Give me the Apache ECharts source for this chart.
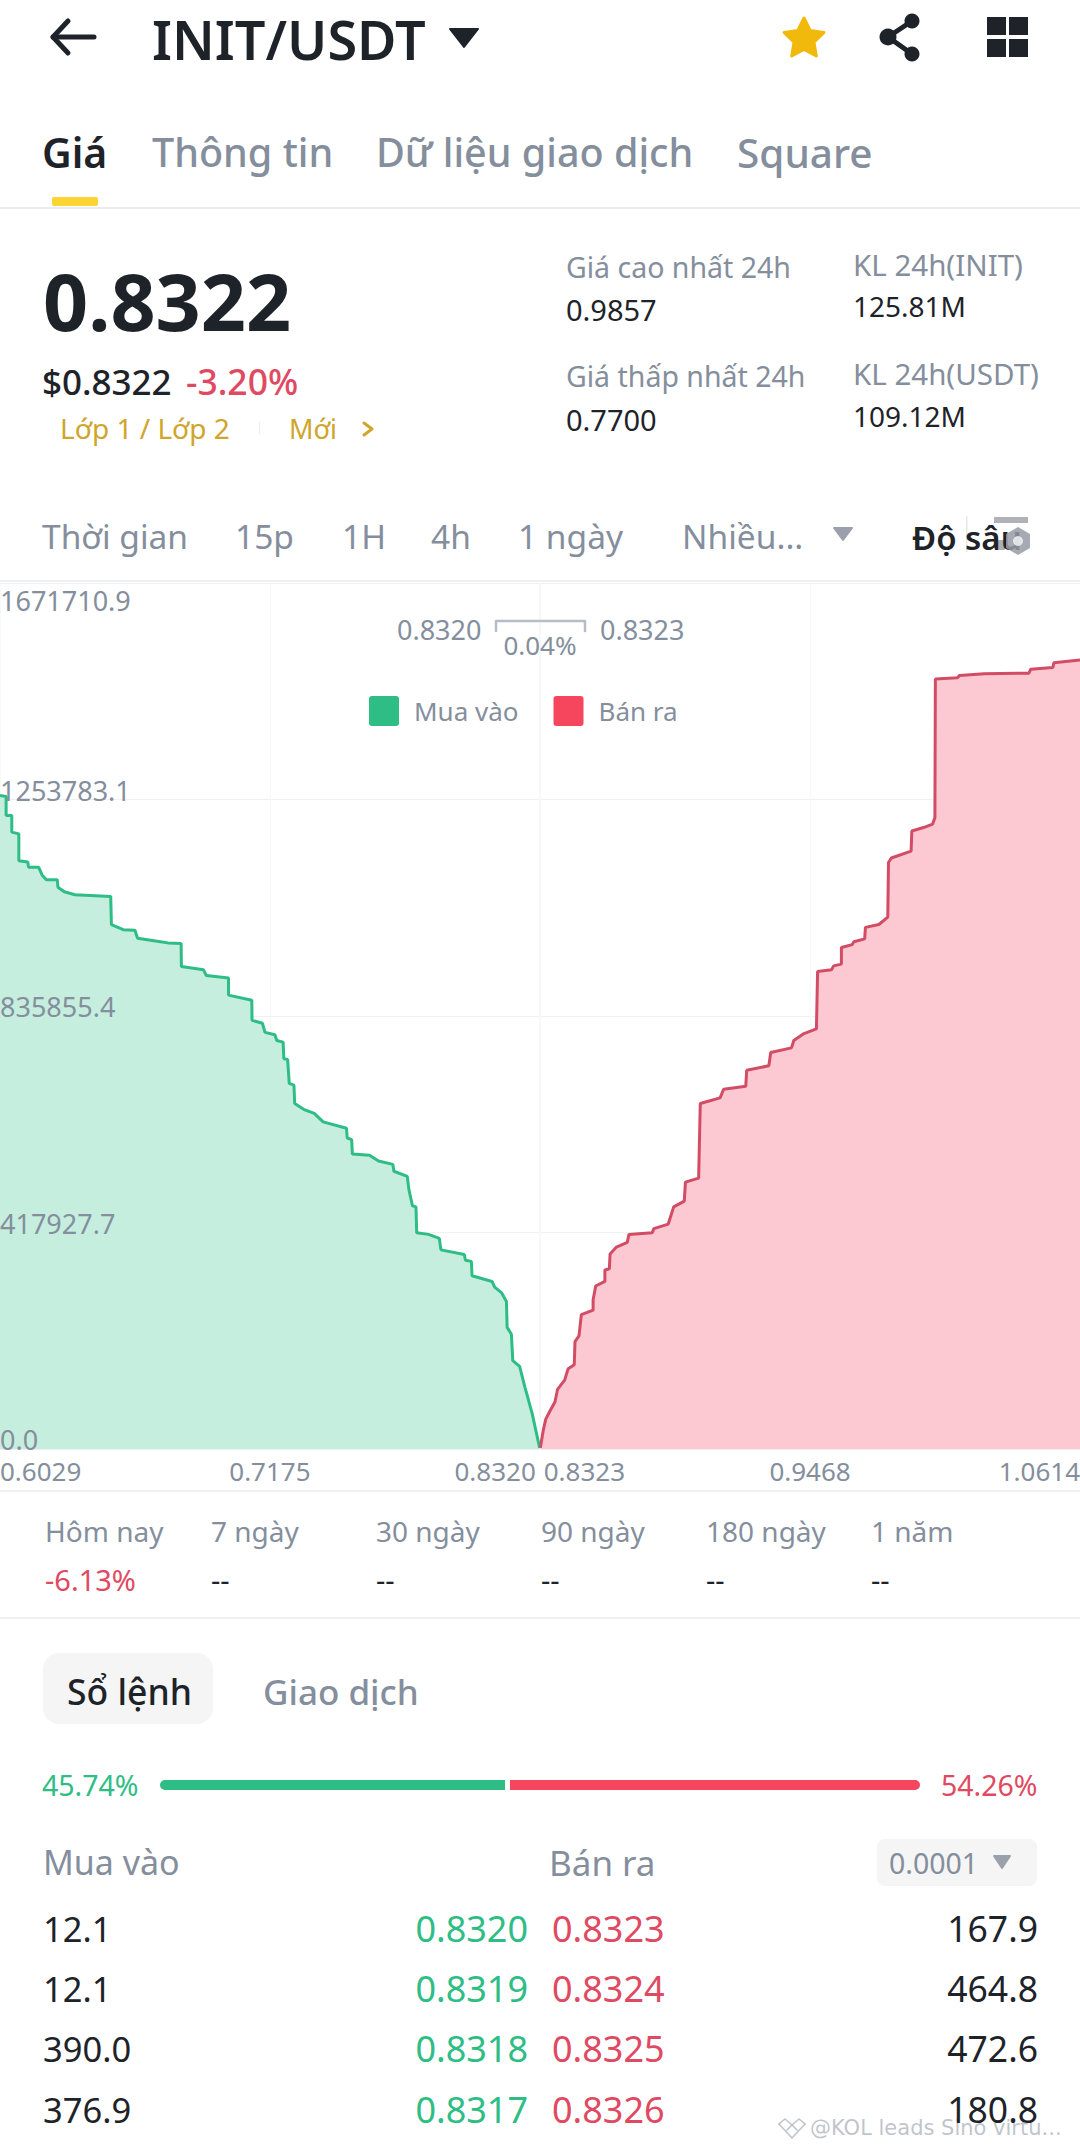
<!DOCTYPE html>
<html>
<head>
<meta charset="utf-8">
<title>INIT/USDT</title>
<style>html,body{margin:0;padding:0;background:#fff}#c{width:1080px;height:2149px}</style>
<script src="https://cdn.jsdelivr.net/npm/echarts@6/dist/echarts.min.js"></script>
</head>
<body>
<div id="c"></div>
<script>
// Depth data: [price, cumulative volume]
var bidDepth = [[0.6029,1261670],[0.6055,1259455],[0.6055,1222900],[0.6079,1222900],[0.6079,1190780],[0.6109,1187450],[0.6109,1135440],[0.6147,1133180],[0.6150,1123210],[0.6193,1123210],[0.6208,1107700],[0.6226,1098840],[0.6272,1098840],[0.6275,1084440],[0.6302,1075580],[0.6347,1070040],[0.6499,1066720],[0.6502,1012440],[0.6552,1002470],[0.6602,1001360],[0.6613,985850],[0.6696,980310],[0.6742,976990],[0.6798,975880],[0.6799,931580],[0.6893,924930],[0.6905,913850],[0.6999,909420],[0.6999,876190],[0.7098,866220],[0.7099,827450],[0.7143,821910],[0.7154,804190],[0.7196,799760],[0.7204,788680],[0.7231,785360],[0.7234,753240],[0.7250,752130],[0.7257,705620],[0.7277,702280],[0.7280,666840],[0.7318,655760],[0.7363,648000],[0.7401,631390],[0.7500,619200],[0.7503,600370],[0.7522,597050],[0.7525,569360],[0.7598,567140],[0.7636,556070],[0.7697,549420],[0.7701,536130],[0.7758,526160],[0.7765,500680],[0.7780,469660],[0.7795,467450],[0.7798,417600],[0.7848,414280],[0.7894,406530],[0.7901,384370],[0.8000,375510],[0.8005,364430],[0.8030,362220],[0.8033,334530],[0.8118,323450],[0.8129,312370],[0.8159,301290],[0.8179,284680],[0.8182,234830],[0.8200,221540],[0.8206,170590],[0.8235,159510],[0.8258,118520],[0.8288,68680],[0.8320,2200]];
var askDepth = [[0.8323,2200],[0.8335,35450],[0.8346,57600],[0.8365,74220],[0.8385,90830],[0.8396,115200],[0.8426,132920],[0.8441,155080],[0.8467,162830],[0.8470,207140],[0.8487,218220],[0.8497,259200],[0.8547,268060],[0.8547,288000],[0.8558,314590],[0.8597,323450],[0.8597,345600],[0.8616,347820],[0.8619,376620],[0.8646,389910],[0.8692,398770],[0.8699,414280],[0.8798,417600],[0.8805,425360],[0.8866,434220],[0.8889,467450],[0.8934,478530],[0.8939,515080],[0.8995,522830],[0.9002,666840],[0.9086,677910],[0.9101,694530],[0.9195,700070],[0.9199,731080],[0.9293,739940],[0.9301,765420],[0.9389,774280],[0.9399,788680],[0.9442,801970],[0.9495,810840],[0.9500,921610],[0.9559,924930],[0.9568,932680],[0.9601,936010],[0.9601,968130],[0.9647,973670],[0.9654,979210],[0.9700,984750],[0.9703,1006900],[0.9760,1012440],[0.9798,1026840],[0.9801,1132070],[0.9813,1140930],[0.9897,1154220],[0.9900,1192990],[0.9950,1199640],[0.9988,1206290],[0.9998,1218470],[1.0000,1486530],[1.0094,1488750],[1.0102,1493180],[1.0208,1496500],[1.0397,1497610],[1.0405,1505350],[1.0499,1508690],[1.0503,1517550],[1.0614,1523090]];
var yTickLabels = ['0.0','417927.7','835855.4','1253783.1','1671710.9'];
var xTickValues = [0.6029,0.7175,0.8320,0.8323,0.9468,1.0614];
var buyShare = [45.74];
var sellShare = [54.26];
var seriesNames = ['Mua vào','Bán ra'];

var INK='#1E2329', GREY='#848E9C', GREEN='#2EBD85', RED='#F6465D', REDT='#DF4A62', GOLD='#CFA52C', FONT='"Noto Sans"';
var gfx=[];
function t(x,y,text,size,fill,weight,align,family){
  gfx.push({type:'text',z:50,silent:true,style:{x:x,y:y,text:text,fill:fill||INK,
    font:(weight||400)+' '+size+'px '+(family||FONT),textAlign:align||'left',textVerticalAlign:'middle',align:align||'left',verticalAlign:'middle'}});
}
function rect(x,y,w,h,r,fill,z){gfx.push({type:'rect',z:z||40,silent:true,shape:{x:x,y:y,width:w,height:h,r:r||0},style:{fill:fill}});}
function tri(x1,x2,y1,y2,fill){gfx.push({type:'polygon',z:50,silent:true,shape:{points:[[x1,y1],[x2,y1],[(x1+x2)/2,y2]]},style:{fill:fill,stroke:fill,lineWidth:2,lineJoin:'round'}});}
function poly(pts,stroke,w){gfx.push({type:'polyline',z:50,silent:true,shape:{points:pts},style:{fill:null,stroke:stroke,lineWidth:w,lineJoin:'round',lineCap:'round'}});}
function circ(x,y,r,fill){gfx.push({type:'circle',z:50,silent:true,shape:{cx:x,cy:y,r:r},style:{fill:fill}});}

// header
poly([[53,37],[94,37]],INK,5); poly([[68,21],[53,37],[68,53]],INK,5);
t(152,39,'INIT/USDT',54,INK,600);
tri(450,478,29,47,INK);
var star=[];for(var i=0;i<10;i++){var a=-Math.PI/2+i*Math.PI/5,R=i%2?10.5:21;star.push([804+R*Math.cos(a),39+R*Math.sin(a)]);}
gfx.push({type:'polygon',z:50,silent:true,shape:{points:star},style:{fill:'#F0B90B',stroke:'#F0B90B',lineWidth:3,lineJoin:'round'}});
poly([[912,21],[888,37],[912,54]],INK,5); circ(912,21,7.5,INK); circ(888,37,8.5,INK); circ(912,54,7.5,INK);
rect(987,17,19,18,0,INK);rect(1009,17,19,18,0,INK);rect(987,39,19,18,0,INK);rect(1009,39,19,18,0,INK);
// tabs
t(42,152,'Giá',41,INK,600);t(152,152,'Thông tin',39.5,GREY,500);t(376,152,'Dữ liệu giao dịch',39.5,GREY,500);t(737,152,'Square',40.5,GREY,500);
rect(52,197,46,9,2,'#FCD535');rect(0,207,1080,2,0,'#EAECEF');
// price block
t(43,300,'0.8322',79,INK,700);
t(42,381,'$0.8322',35,INK,500);t(186,381,'-3.20%',35.5,REDT,500);
t(60,428,'Lớp 1 / Lớp 2',28,GOLD);rect(259,422,1,12,0,'#EAECEF');t(289,428,'Mới',27,GOLD);
poly([[364,423],[372,429],[364,435]],GOLD,3);
t(566,267,'Giá cao nhất 24h',28.5,GREY);t(566,309,'0.9857',29,INK);
t(566,376,'Giá thấp nhất 24h',28.5,GREY);t(566,419,'0.7700',29,INK);
t(853,264,'KL 24h(INIT)',29.5,GREY);t(853,306,'125.81M',28,INK);
t(853,373,'KL 24h(USDT)',29.5,GREY);t(853,416,'109.12M',28,INK);
// intervals
t(42,536,'Thời gian',33.5,GREY);t(235,536,'15p',33.5,GREY);t(342,536,'1H',33.5,GREY);t(431,536,'4h',33.5,GREY);t(518,536,'1 ngày',33.5,GREY);t(682,536,'Nhiều...',33.5,GREY);
tri(834,852,528,540,'#9AA1AC');
t(912,537,'Độ sâu',33,INK,600);
rect(966,516,1.5,36,0,'#E6E8EC');
rect(994,517,34,6,0,'#B0B2B8');
rect(995,540,10,10,1,'rgba(150,155,165,0.8)');
gfx.push({type:'polygon',z:50,silent:true,shape:{points:[[1018,527],[1030,534],[1030,548],[1018,555],[1006,548],[1006,534]]},style:{fill:'rgba(150,155,165,0.85)'}});
circ(1018,541,5,'rgba(235,236,238,0.9)');
rect(0,580,1080,2,0,'#EFF0F2');
// spread
t(397,629,'0.8320',27,GREY);t(600,629,'0.8323',27,GREY);t(540,645,'0.04%',26,GREY,400,'center');
poly([[496,631],[496,621],[585,621],[585,631]],'#B7BDC6',2.5);
// below chart
rect(0,1490,1080,2,0,'#EFF0F2');
var pN=['Hôm nay','7 ngày','30 ngày','90 ngày','180 ngày','1 năm'],pX=[45,211,376,541,706,871],pV=['-6.13%','--','--','--','--','--'];
pN.forEach(function(n,i){t(pX[i],1531,n,28,GREY);t(pX[i],1579,pV[i],29,i?INK:REDT);});
rect(0,1617,1080,2,0,'#EFF0F2');
rect(43,1653,170,71,16,'#F5F5F5');t(67,1691,'Sổ lệnh',35.5,INK,500);t(263,1691,'Giao dịch',35,GREY,500);
t(42,1785,buyShare[0]+'%',28.5,GREEN);t(941,1785,sellShare[0]+'%',28.5,REDT);
rect(505,1778,5,14,0,'#fff',60);
t(43,1862,'Mua vào',34,GREY);t(549,1862,'Bán ra',35,GREY);
rect(877,1839,160,47,8,'#F5F5F5');t(889,1863,'0.0001',28.5,GREY);tri(994,1010,1856,1868,'#9AA1AC');
// watermark sits under the table text
t(810,2128,'@KOL leads Sino virtu...',21,'rgba(165,170,180,0.7)',400,'left','"DejaVu Sans"');
poly([[779,2124],[792,2138],[805,2124]],'rgba(165,170,180,0.7)',1.6);
poly([[779,2124],[785,2119],[792,2125],[799,2119],[805,2124]],'rgba(165,170,180,0.7)',1.6);
poly([[787,2130],[792,2125],[797,2130]],'rgba(165,170,180,0.7)',1.6);
var bidQty=['12.1','12.1','390.0','376.9'],bidPx=['0.8320','0.8319','0.8318','0.8317'],askPx=['0.8323','0.8324','0.8325','0.8326'],askQty=['167.9','464.8','472.6','180.8'],rowY=[1928,1988,2048,2109];
rowY.forEach(function(y,i){t(43,y,bidQty[i],34.5,INK);t(528,y,bidPx[i],36,GREEN,400,'right');t(552,y,askPx[i],36,REDT);t(1038,y,askQty[i],35.5,INK,400,'right');});

var chart=echarts.init(document.getElementById('c'),null,{renderer:'svg',width:1080,height:2149});
chart.setOption({
  backgroundColor:'#fff',animation:false,
  grid:[{left:0,right:0,top:583,height:866,containLabel:false,outerBoundsMode:'none'},{left:160,width:760,top:1780,height:10,outerBoundsMode:'none'}],
  legend:{left:369,top:696,padding:0,itemWidth:30,itemHeight:30,itemGap:35,selectedMode:false,
    textStyle:{fontFamily:FONT,fontSize:26,color:GREY,padding:[0,0,0,10]},
    data:[{name:seriesNames[0],icon:'path://M3,0H27A3,3 0 0 1 30,3V27A3,3 0 0 1 27,30H3A3,3 0 0 1 0,27V3A3,3 0 0 1 3,0Z',itemStyle:{color:GREEN}},
          {name:seriesNames[1],icon:'path://M3,0H27A3,3 0 0 1 30,3V27A3,3 0 0 1 27,30H3A3,3 0 0 1 0,27V3A3,3 0 0 1 3,0Z',itemStyle:{color:RED}}]},
  xAxis:[{type:'value',gridIndex:0,min:0.6029,max:1.0614,
    axisLine:{show:false},axisTick:{show:false,customValues:xTickValues},
    splitLine:{show:true,lineStyle:{color:'#F7F8F9',width:1}},
    axisLabel:{customValues:xTickValues,margin:9,fontFamily:FONT,fontSize:26,color:GREY,alignMinLabel:'left',alignMaxLabel:'right',
      formatter:function(v){var s=(+v).toFixed(4);if(s==='0.8320')return '{l|'+s+'}';if(s==='0.8323')return '{r|'+s+'}';return s;},
      rich:{l:{fontFamily:FONT,fontSize:26,color:GREY,padding:[0,89,0,0]},r:{fontFamily:FONT,fontSize:26,color:GREY,padding:[0,0,0,88]}}}},
    {type:'value',gridIndex:1,min:0,max:100,show:false}],
  yAxis:[{type:'value',gridIndex:0,min:0,max:1671710.9,interval:417927.725,
    axisLine:{show:false},axisTick:{show:false},axisLabel:{show:false},
    splitLine:{show:true,lineStyle:{color:'#EFF0F2',width:1}}},
    {type:'category',gridIndex:1,data:['ratio'],show:false},
    {type:'value',gridIndex:0,min:0,max:1671710.9,interval:417927.725,z:10,position:'left',
    axisLine:{show:false},axisTick:{show:false},splitLine:{show:false},
    axisLabel:{inside:true,margin:0,fontFamily:FONT,fontSize:27,lineHeight:19,padding:[8,0,0,0],color:GREY,align:'left',verticalAlign:'bottom',verticalAlignMaxLabel:'top',
      formatter:function(v,i){return yTickLabels[i];}}}],
  series:[
    {name:seriesNames[0],type:'line',xAxisIndex:0,yAxisIndex:0,data:bidDepth,showSymbol:false,silent:true,
      lineStyle:{color:GREEN,width:3},itemStyle:{color:GREEN},areaStyle:{color:'#C6EEDE',opacity:1},z:3},
    {name:seriesNames[1],type:'line',xAxisIndex:0,yAxisIndex:0,data:askDepth,showSymbol:false,silent:true,
      lineStyle:{color:'#D24C65',width:3},itemStyle:{color:RED},areaStyle:{color:'#FCC8D1',opacity:1},z:3},
    {name:'buyShare',type:'bar',xAxisIndex:1,yAxisIndex:1,stack:'ratio',data:buyShare,barWidth:10,silent:true,itemStyle:{color:GREEN,borderRadius:[5,0,0,5]}},
    {name:'sellShare',type:'bar',xAxisIndex:1,yAxisIndex:1,stack:'ratio',data:sellShare,barWidth:10,silent:true,itemStyle:{color:RED,borderRadius:[0,5,5,0]}}
  ],
  graphic:{elements:gfx}
});
</script>
</body>
</html>
